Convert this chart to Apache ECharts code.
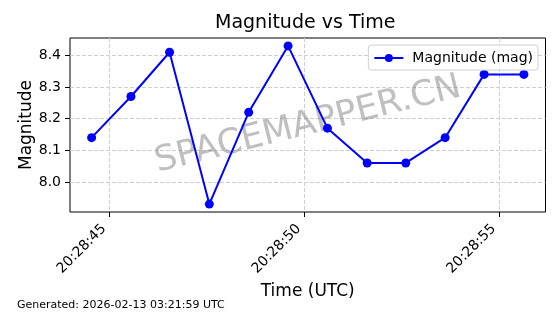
<!DOCTYPE html>
<html>
<head>
<meta charset="utf-8">
<script src="https://cdn.jsdelivr.net/npm/echarts@6/dist/echarts.min.js"></script>
<style>
html,body{margin:0;padding:0;background:#fff;}
#main{width:560px;height:314px;}
</style>
</head>
<body>
<div id="main"></div>
<script>
// seconds past 20:28:00 UTC
const timeSec = [44.54, 45.55, 46.54, 47.56, 48.57, 49.58, 50.59, 51.61, 52.60, 53.61, 54.61, 55.63];
const magnitude = [8.14, 8.27, 8.41, 7.93, 8.22, 8.43, 8.17, 8.06, 8.06, 8.14, 8.34, 8.34];
const xTickValues = [45, 50, 55];
const xTickLabels = ['20:28:45', '20:28:50', '20:28:55'];
const yTickValues = [8.0, 8.1, 8.2, 8.3, 8.4];
const yTickLabels = ['8.0', '8.1', '8.2', '8.3', '8.4'];

const FONT = 'DejaVu Sans';
const chart = echarts.init(document.getElementById('main'), null, {renderer: 'canvas'});

const pad = (v) => (v.max - v.min) * 0.05;

chart.setOption({
  animation: false,
  backgroundColor: '#fff',
  textStyle: {fontFamily: FONT},
  title: {
    text: 'Magnitude vs Time',
    left: 215,
    top: 14,
    padding: 0,
    textStyle: {fontFamily: FONT, fontSize: 19, fontWeight: 'normal', color: '#000'}
  },
  grid: {
    left: 70, top: 38, width: 475.5, height: 174,
    show: true, borderColor: '#000', borderWidth: 1, backgroundColor: 'transparent',
    containLabel: false
  },
  legend: {
    data: ['Magnitude (mag)'],
    right: 22,
    top: 45,
    padding: [6, 5, 5, 5],
    itemWidth: 29,
    itemHeight: 10,
    borderColor: '#d0d0d0',
    borderWidth: 1,
    borderRadius: 3,
    backgroundColor: 'rgba(255,255,255,0.8)',
    textStyle: {fontFamily: FONT, fontSize: 14, color: '#000', padding: [0, 0, 0, 4]}
  },
  xAxis: {
    type: 'value',
    min: (v) => v.min - pad(v),
    max: (v) => v.max + pad(v),
    name: 'Time (UTC)',
    nameLocation: 'middle',
    nameGap: 71,
    nameMoveOverlap: false,
    nameTextStyle: {fontFamily: FONT, fontSize: 17, color: '#000'},
    axisLine: {show: false},
    axisTick: {show: true, length: 5, inside: false, customValues: xTickValues, lineStyle: {color: '#000', width: 1}},
    axisLabel: {
      customValues: xTickValues,
      rotate: 45,
      margin: 9,
      padding: [0, 8, 0, 0],
      fontFamily: FONT, fontSize: 14, color: '#000',
      formatter: (v) => {
        const i = xTickValues.findIndex(t => Math.abs(t - v) < 1e-6);
        return i >= 0 ? xTickLabels[i] : '';
      }
    },
    splitLine: {show: true, lineStyle: {color: '#cfcfcf', type: [4, 2], width: 1}}
  },
  yAxis: {
    type: 'value',
    min: (v) => v.min - pad(v),
    max: (v) => v.max + pad(v),
    name: 'Magnitude',
    nameLocation: 'middle',
    nameGap: 35,
    nameMoveOverlap: false,
    nameTextStyle: {fontFamily: FONT, fontSize: 17, color: '#000'},
    axisLine: {show: false},
    axisTick: {show: true, length: 5, inside: false, customValues: yTickValues, lineStyle: {color: '#000', width: 1}},
    axisLabel: {
      customValues: yTickValues,
      margin: 9,
      fontFamily: FONT, fontSize: 14, color: '#000',
      formatter: (v) => {
        const i = yTickValues.findIndex(t => Math.abs(t - v) < 1e-6);
        return i >= 0 ? yTickLabels[i] : '';
      }
    },
    splitLine: {show: true, lineStyle: {color: '#cfcfcf', type: [4, 2], width: 1}}
  },
  graphic: [
    {
      type: 'text',
      x: 308, y: 125,
      rotation: 14 * Math.PI / 180,
      z: 1,
      style: {
        text: 'SPACEMAPPER.CN',
        font: '35px "DejaVu Sans"',
        fill: 'rgba(128,128,128,0.5)',
        align: 'center',
        verticalAlign: 'middle'
      }
    },
    {
      type: 'text',
      left: 17, top: 300,
      style: {
        text: 'Generated: 2026-02-13 03:21:59 UTC',
        font: '11px "DejaVu Sans"',
        fill: '#000'
      }
    }
  ],
  series: [{
    name: 'Magnitude (mag)',
    type: 'line',
    data: timeSec.map((t, i) => [t, magnitude[i]]),
    symbol: 'circle',
    symbolSize: 9,
    showSymbol: true,
    color: '#0000ff',
    itemStyle: {color: '#0000ff'},
    lineStyle: {color: '#0000ff', width: 2},
    z: 3
  }]
});
</script>
</body>
</html>
